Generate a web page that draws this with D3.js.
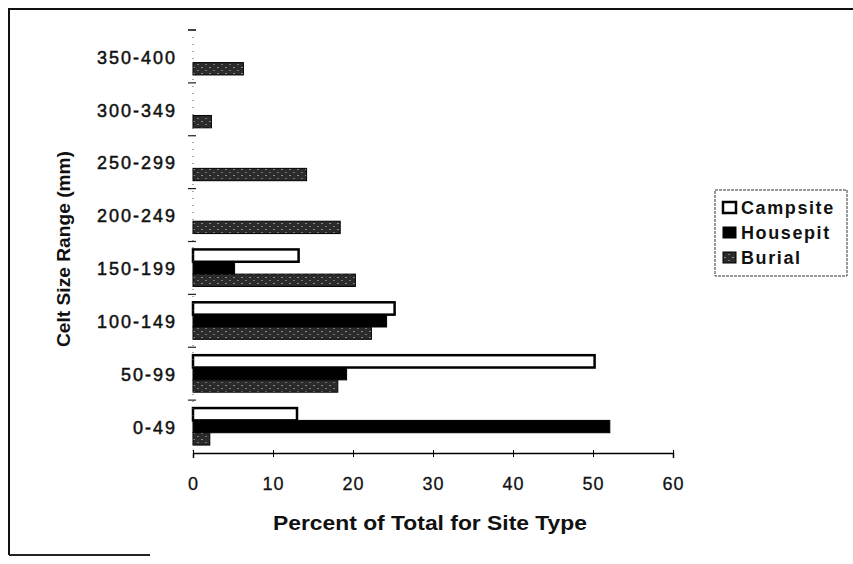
<!DOCTYPE html>
<html><head><meta charset="utf-8">
<script src="https://cdn.jsdelivr.net/npm/d3@7"></script>
<style>body{margin:0;background:#fff}svg{display:block}text{font-family:"Liberation Sans",Arial,sans-serif}</style>
</head><body><svg id="c" width="853" height="564"></svg>
<script>
const categories = ["0-49","50-99","100-149","150-199","200-249","250-299","300-349","350-400"];
const seriesNames = ["Campsite","Housepit","Burial"];
const campsite = [13, 50.2, 25.2, 13.2, 0, 0, 0, 0];
const housepit = [52.1, 19.2, 24.2, 5.2, 0, 0, 0, 0];
const burial   = [2.1, 18.1, 22.3, 20.3, 18.4, 14.2, 2.3, 6.3];
const xTicks = [0,10,20,30,40,50,60];

(function(){
const svg = d3.select("#c");
const defs = svg.append("defs");
const pat = defs.append("pattern").attr("id","burialPat").attr("patternUnits","userSpaceOnUse").attr("width",8).attr("height",6);
pat.append("rect").attr("width",8).attr("height",6).attr("fill","#2b2b2b");
pat.append("rect").attr("x",1).attr("y",1).attr("width",2).attr("height",1).attr("fill","#8a8a8a");
pat.append("rect").attr("x",5).attr("y",4).attr("width",2).attr("height",1).attr("fill","#777");

const fills = ["#fff","#000","url(#burialPat)"];
const data = [campsite, housepit, burial];

// frame
svg.append("path").attr("d","M9,555 L9,9 L853,9").attr("fill","none").attr("stroke","#111").attr("stroke-width",2);
svg.append("line").attr("x1",9).attr("x2",150).attr("y1",555).attr("y2",555).attr("stroke","#222").attr("stroke-width",2);

const pLeft = 193, pRight = 673, pTop = 30, pBottom = 453;
const x = d3.scaleLinear().domain([0,60]).range([pLeft,pRight]);
const y = d3.scaleBand().domain(categories).range([pBottom, pTop]).paddingInner(0.3).paddingOuter(0.15);
const yAxisScale = d3.scaleBand().domain(categories).range([pBottom, pTop]);
const inner = d3.scaleBand().domain(seriesNames).range([0, y.bandwidth()]);

// bars
seriesNames.forEach((s,si)=>{
  svg.append("g").selectAll("rect").data(categories.map((c,i)=>({c, v:data[si][i]})).filter(d=>d.v>0))
    .join("rect")
    .attr("x", x(0))
    .attr("y", d=>y(d.c)+inner(s))
    .attr("width", d=>x(d.v)-x(0))
    .attr("height", inner.bandwidth())
    .attr("fill", fills[si])
    .attr("stroke","#000").attr("stroke-width", si===0?2.5:1);
});

// y axis (dotted)
svg.append("line").attr("x1",pLeft).attr("x2",pLeft).attr("y1",pTop).attr("y2",pBottom)
  .attr("stroke","#555").attr("stroke-width",1).attr("stroke-dasharray","1,6");
const yTickPos = categories.map(c=>yAxisScale(c)).concat([pTop]);
svg.append("g").selectAll("line").data(yTickPos).join("line")
  .attr("x1",pLeft-5).attr("x2",pLeft+3).attr("y1",d=>d).attr("y2",d=>d)
  .attr("stroke","#222").attr("stroke-width",1.2);
svg.append("g").selectAll("text").data(categories).join("text")
  .attr("x",177).attr("y",c=>yAxisScale(c)+yAxisScale.bandwidth()/2+1)
  .attr("dy","0.35em").attr("text-anchor","end")
  .attr("font-size",18).attr("fill","#111").attr("stroke","#111").attr("stroke-width",0.5)
  .attr("letter-spacing","2")
  .text(c=>c);

// x axis
const xAxis = svg.append("g").attr("transform",`translate(0,${pBottom})`)
  .call(d3.axisBottom(x).tickValues(xTicks).tickSize(5).tickFormat(d3.format("d")));
xAxis.select(".domain").attr("stroke","#000").attr("stroke-width",1.5);
xAxis.selectAll(".tick line").attr("stroke","#000").attr("y1",-3).attr("y2",4);
xAxis.selectAll(".tick text").attr("font-size",18).attr("fill","#111").attr("y",24)
  .attr("stroke","#111").attr("stroke-width",0.3).attr("letter-spacing","1")
  .attr("font-family","Liberation Sans, Arial, sans-serif");

// axis titles
svg.append("text").attr("x",430).attr("y",523).attr("dy","0.35em").attr("text-anchor","middle")
  .attr("font-size",20).attr("font-weight","bold").attr("fill","#111")
  .attr("textLength",314).attr("lengthAdjust","spacingAndGlyphs")
  .text("Percent of Total for Site Type");
svg.append("text").attr("transform","translate(64,249) rotate(-90)").attr("dy","0.35em").attr("text-anchor","middle")
  .attr("font-size",18).attr("font-weight","bold").attr("fill","#111")
  .attr("textLength",196).attr("lengthAdjust","spacingAndGlyphs")
  .text("Celt Size Range (mm)");

// legend
const lg = svg.append("g").attr("transform","translate(715,190)");
lg.append("rect").attr("width",132).attr("height",86).attr("fill","#fff").attr("stroke","#333").attr("stroke-width",1).attr("stroke-dasharray","3,1");
seriesNames.forEach((s,i)=>{
  const gy = 18 + i*25;
  lg.append("rect").attr("x",8).attr("y",gy-6).attr("width",13).attr("height",11)
    .attr("fill",fills[i]).attr("stroke","#000").attr("stroke-width", i===0?2.5:1);
  lg.append("text").attr("x",26).attr("y",gy).attr("dy","0.35em")
    .attr("font-size",18).attr("font-weight","bold").attr("letter-spacing","1.6").attr("fill","#111").text(s);
});
})();
</script></body></html>
